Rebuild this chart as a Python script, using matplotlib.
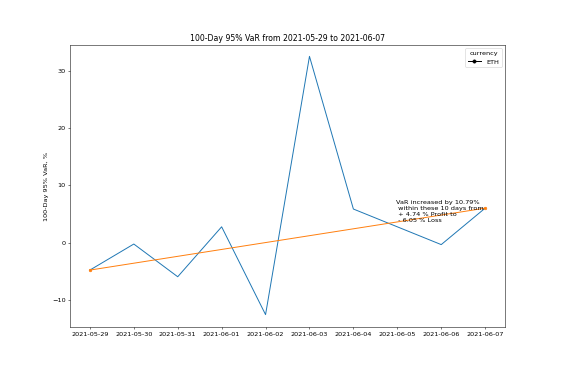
import matplotlib
matplotlib.use("Agg")
import matplotlib.pyplot as plt
from matplotlib.lines import Line2D

dates = ["2021-05-29", "2021-05-30", "2021-05-31", "2021-06-01", "2021-06-02",
         "2021-06-03", "2021-06-04", "2021-06-05", "2021-06-06", "2021-06-07"]
var_values = [-4.74, -0.2, -5.9, 2.8, -12.5, 32.5, 5.9, 2.8, -0.3, 6.05]
trend_dates = [dates[0], dates[-1]]
trend_values = [-4.74, 6.05]
note = "VaR increased by 10.79%\n within these 10 days from\n + 4.74 % Profit to\n - 6.05 % Loss"

fig, ax = plt.subplots(figsize=(12, 8), dpi=46.75)
x = list(range(len(dates)))
ax.plot(x, var_values, color="#1f77b4", linewidth=1.5)
ax.plot([0, len(dates) - 1], trend_values, color="#ff7f0e", marker="o", markersize=4, linewidth=1.5)
ax.set_xticks(x)
ax.set_xticklabels(dates)
ax.set_ylim(-14.7, 34.5)
ax.set_title("100-Day 95% VaR from 2021-05-29 to 2021-06-07")
ax.set_ylabel("100-Day 95% VaR, %")
ax.text(6.98, 5.5, note, ha="left", va="center")
handle = Line2D([], [], color="black", marker="o", markersize=5)
ax.legend([handle], ["ETH"], title="currency", loc="upper right")
fig.subplots_adjust(left=0.125, right=0.9, top=0.88, bottom=0.125)
fig.savefig("out.png")
